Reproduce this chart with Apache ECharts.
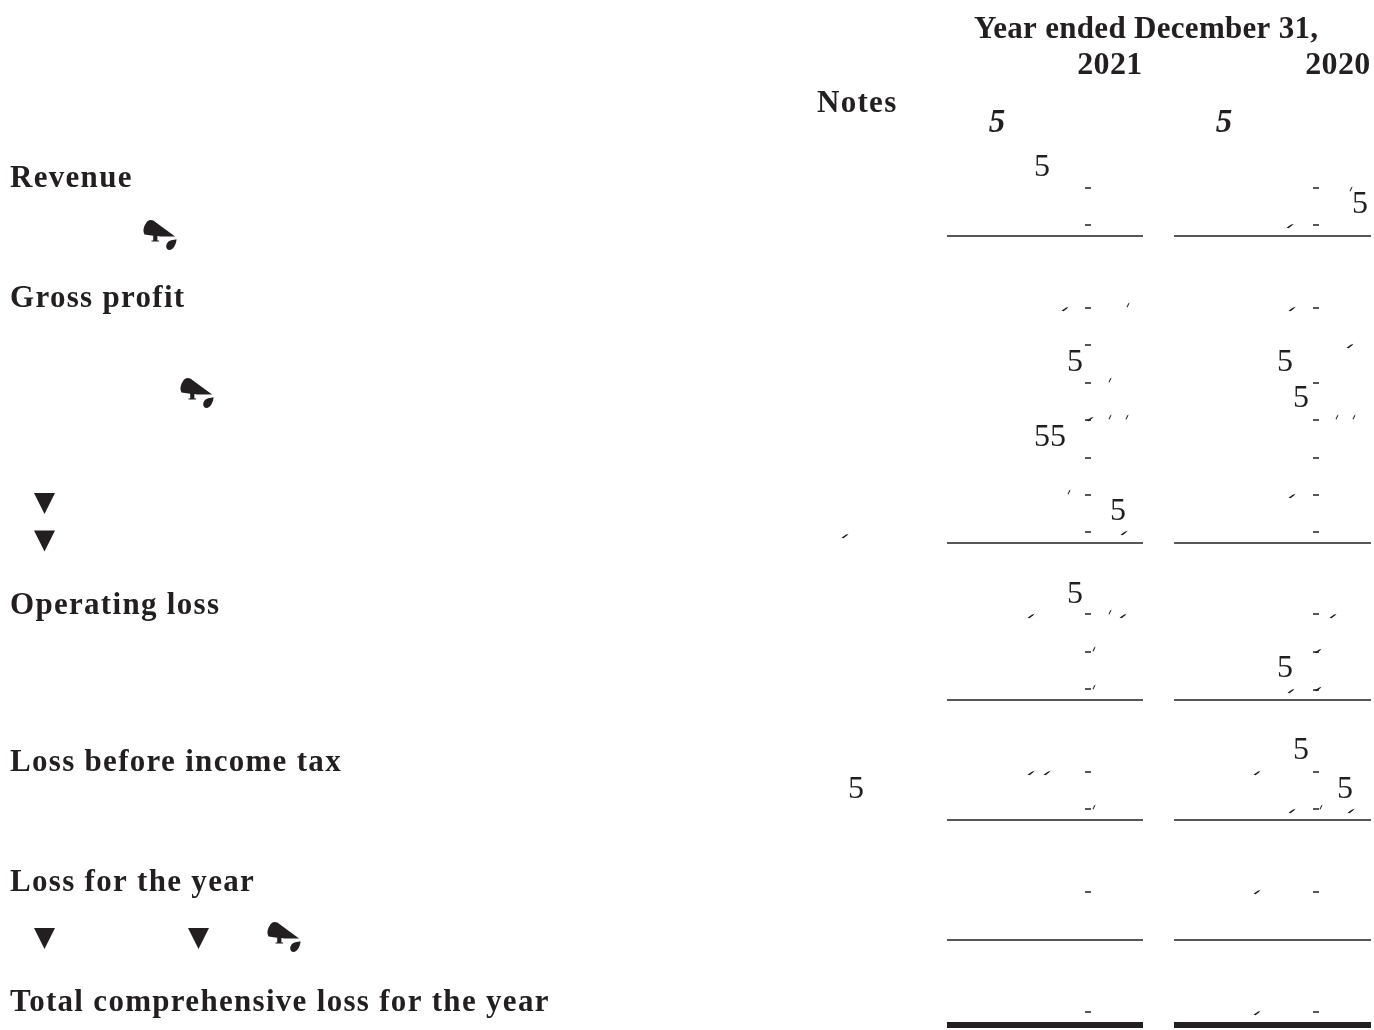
<!DOCTYPE html>
<html><head><meta charset="utf-8">
<style>html,body{margin:0;padding:0;background:#fff}#c{width:1374px;height:1030px}</style>
<script src="https://cdn.jsdelivr.net/npm/echarts@6/dist/echarts.min.js"></script>
</head><body><div id="c"></div>
<script>
// Text: [text, x, y]
const rowLabels = [["Revenue",10,179],["Gross profit",10,299],["Operating loss",10,606],["Loss before income tax",10,763],["Loss for the year",10,883],["Total comprehensive loss for the year",10,1003],["Notes",817,104]];
const headerLabels = [["Year ended December 31,",974,30]];
const yearLabels = [["2021",1142.5,66],["2020",1370.5,66]];
const italicFives = [["5",997,123],["5",1224,123]];
const plainFives = [["5",1042,168],["5",1360,205],["5",1075,363],["5",1285,363],["5",1301,399],["55",1050,438],["5",1118,512],["5",1075,595],["5",1285,669],["5",1301,751],["5",1345,790],["5",856,790]];
// Glyph remnants
const triangleMarks = [[44.5,503.5],[44.5,541],[44.5,938.5],[198.5,938.5]];
const cameraMarks = [[160,235],[197,393],[284,937]];
const dashMarks = [[1088,188],[1088,225],[1088,308],[1088,345],[1088,383],[1088,420],[1088,458],[1088,495],[1088,532],[1088,614],[1088,652],[1088,689],[1088,772],[1088,809],[1088,892],[1088,1012],
 [1316,188],[1316,225],[1316,308],[1316,383],[1316,420],[1316,458],[1316,495],[1316,532],[1316,614],[1316,652],[1316,690],[1316,772],[1316,809],[1316,892],[1316,1012]];
const slashMarks = [[1290,226],[1065,309],[1292,309],[1350,346],[1292,496],[1124,533],[1031,616],[1123,616],[1333,616],[1291,691],[1031,773],[1047,773],[1257,773],[1292,811],[1351,811],[1257,892],[1257,1013],[845,536],[1090,419],[1318,651],[1318,689]];
const thinMarks = [[1351,189],[1128,305],[1110,380],[1110,417],[1127,417],[1337,417],[1354,417],[1069,492],[1110,612],[1094,649],[1094,687],[1094,807],[1321,807]];
// Rules
const col2021 = [947,1143], col2020 = [1174,1371];
const thinRuleRows = [236,543,700,820,940];
const thickRuleRows = [1025];

const ink = '#231f20';
const SERIF = '"Liberation Serif","Times New Roman",serif';
const CAMERA = 'path://M10 12C14 0 28-2 38 8L94 50L52 50L43 49L43 62L48 62L48 65L26 65L26 62L31 62L31 48L6 44C0 34 4 20 10 12zM98 58C98 72 88 90 78 90C66 90 66 74 74 66C80 60 90 60 98 58z';
const SLASH = 'path://M0 9L6 2L10 0L8 4L3 10z';

const el = document.getElementById('c');
const chart = echarts.init(el, null, {renderer:'canvas', width:1374, height:1030, devicePixelRatio:1});
// The printed page is letter-spaced: give the text layers their own tracking.
const painter = chart.getZr().painter;
function track(z, px){ try { painter.getLayer(z).ctx.letterSpacing = px + 'px'; } catch(e){} }
track(1, 1.3);
track(2, 0.3);

function textSeries(rows, fontSize, weight, style, align, zlevel){
  return {type:'scatter', zlevel:zlevel||0, symbolSize:1, itemStyle:{color:'transparent',opacity:1}, silent:true, z:5,
    data: rows.map(r=>({value:[r[1],r[2]], name:r[0]})),
    label:{show:true, opacity:1, position:'inside', formatter:p=>p.name, color:ink, fontFamily:SERIF, fontSize, fontWeight:weight, fontStyle:style, align, verticalAlign:'middle'}};
}
function markSeries(rows, symbol, size, rotate){
  return {type:'scatter', silent:true, symbol, symbolSize:size, symbolRotate:rotate||0, itemStyle:{color:ink,opacity:1}, data:rows};
}
function ruleSeries(rows, width){
  const coords=[];
  rows.forEach(y=>{[col2021,col2020].forEach(c=>coords.push({coords:[[c[0],y],[c[1],y]]}));});
  return {type:'lines', coordinateSystem:'cartesian2d', silent:true, polyline:false, lineStyle:{color:ink,width,opacity:1,curveness:0}, data:coords};
}

chart.setOption({
  animation:false, backgroundColor:'#fff',
  grid:{left:0,right:0,top:0,bottom:0,containLabel:false},
  xAxis:{type:'value',min:0,max:1374,show:false},
  yAxis:{type:'value',min:0,max:1030,inverse:true,show:false},
  tooltip:{show:false},
  series:[
    textSeries(rowLabels,31,'bold','normal','left',1),
    textSeries(headerLabels,31,'bold','normal','left',2),
    textSeries(yearLabels,32,'bold','normal','right',2),
    textSeries(italicFives,33,'bold','italic','center'),
    textSeries(plainFives,32,'normal','normal','center'),
    markSeries(triangleMarks,'triangle',[21,21],180),
    markSeries(cameraMarks,CAMERA,[33,30]),
    markSeries(dashMarks,'rect',[6,1.5]),
    markSeries(slashMarks,SLASH,[7,4.5]),
    markSeries(thinMarks,SLASH,[3,5]),
    ruleSeries(thinRuleRows,1.5),
    ruleSeries(thickRuleRows,6)
  ]
});
</script></body></html>
